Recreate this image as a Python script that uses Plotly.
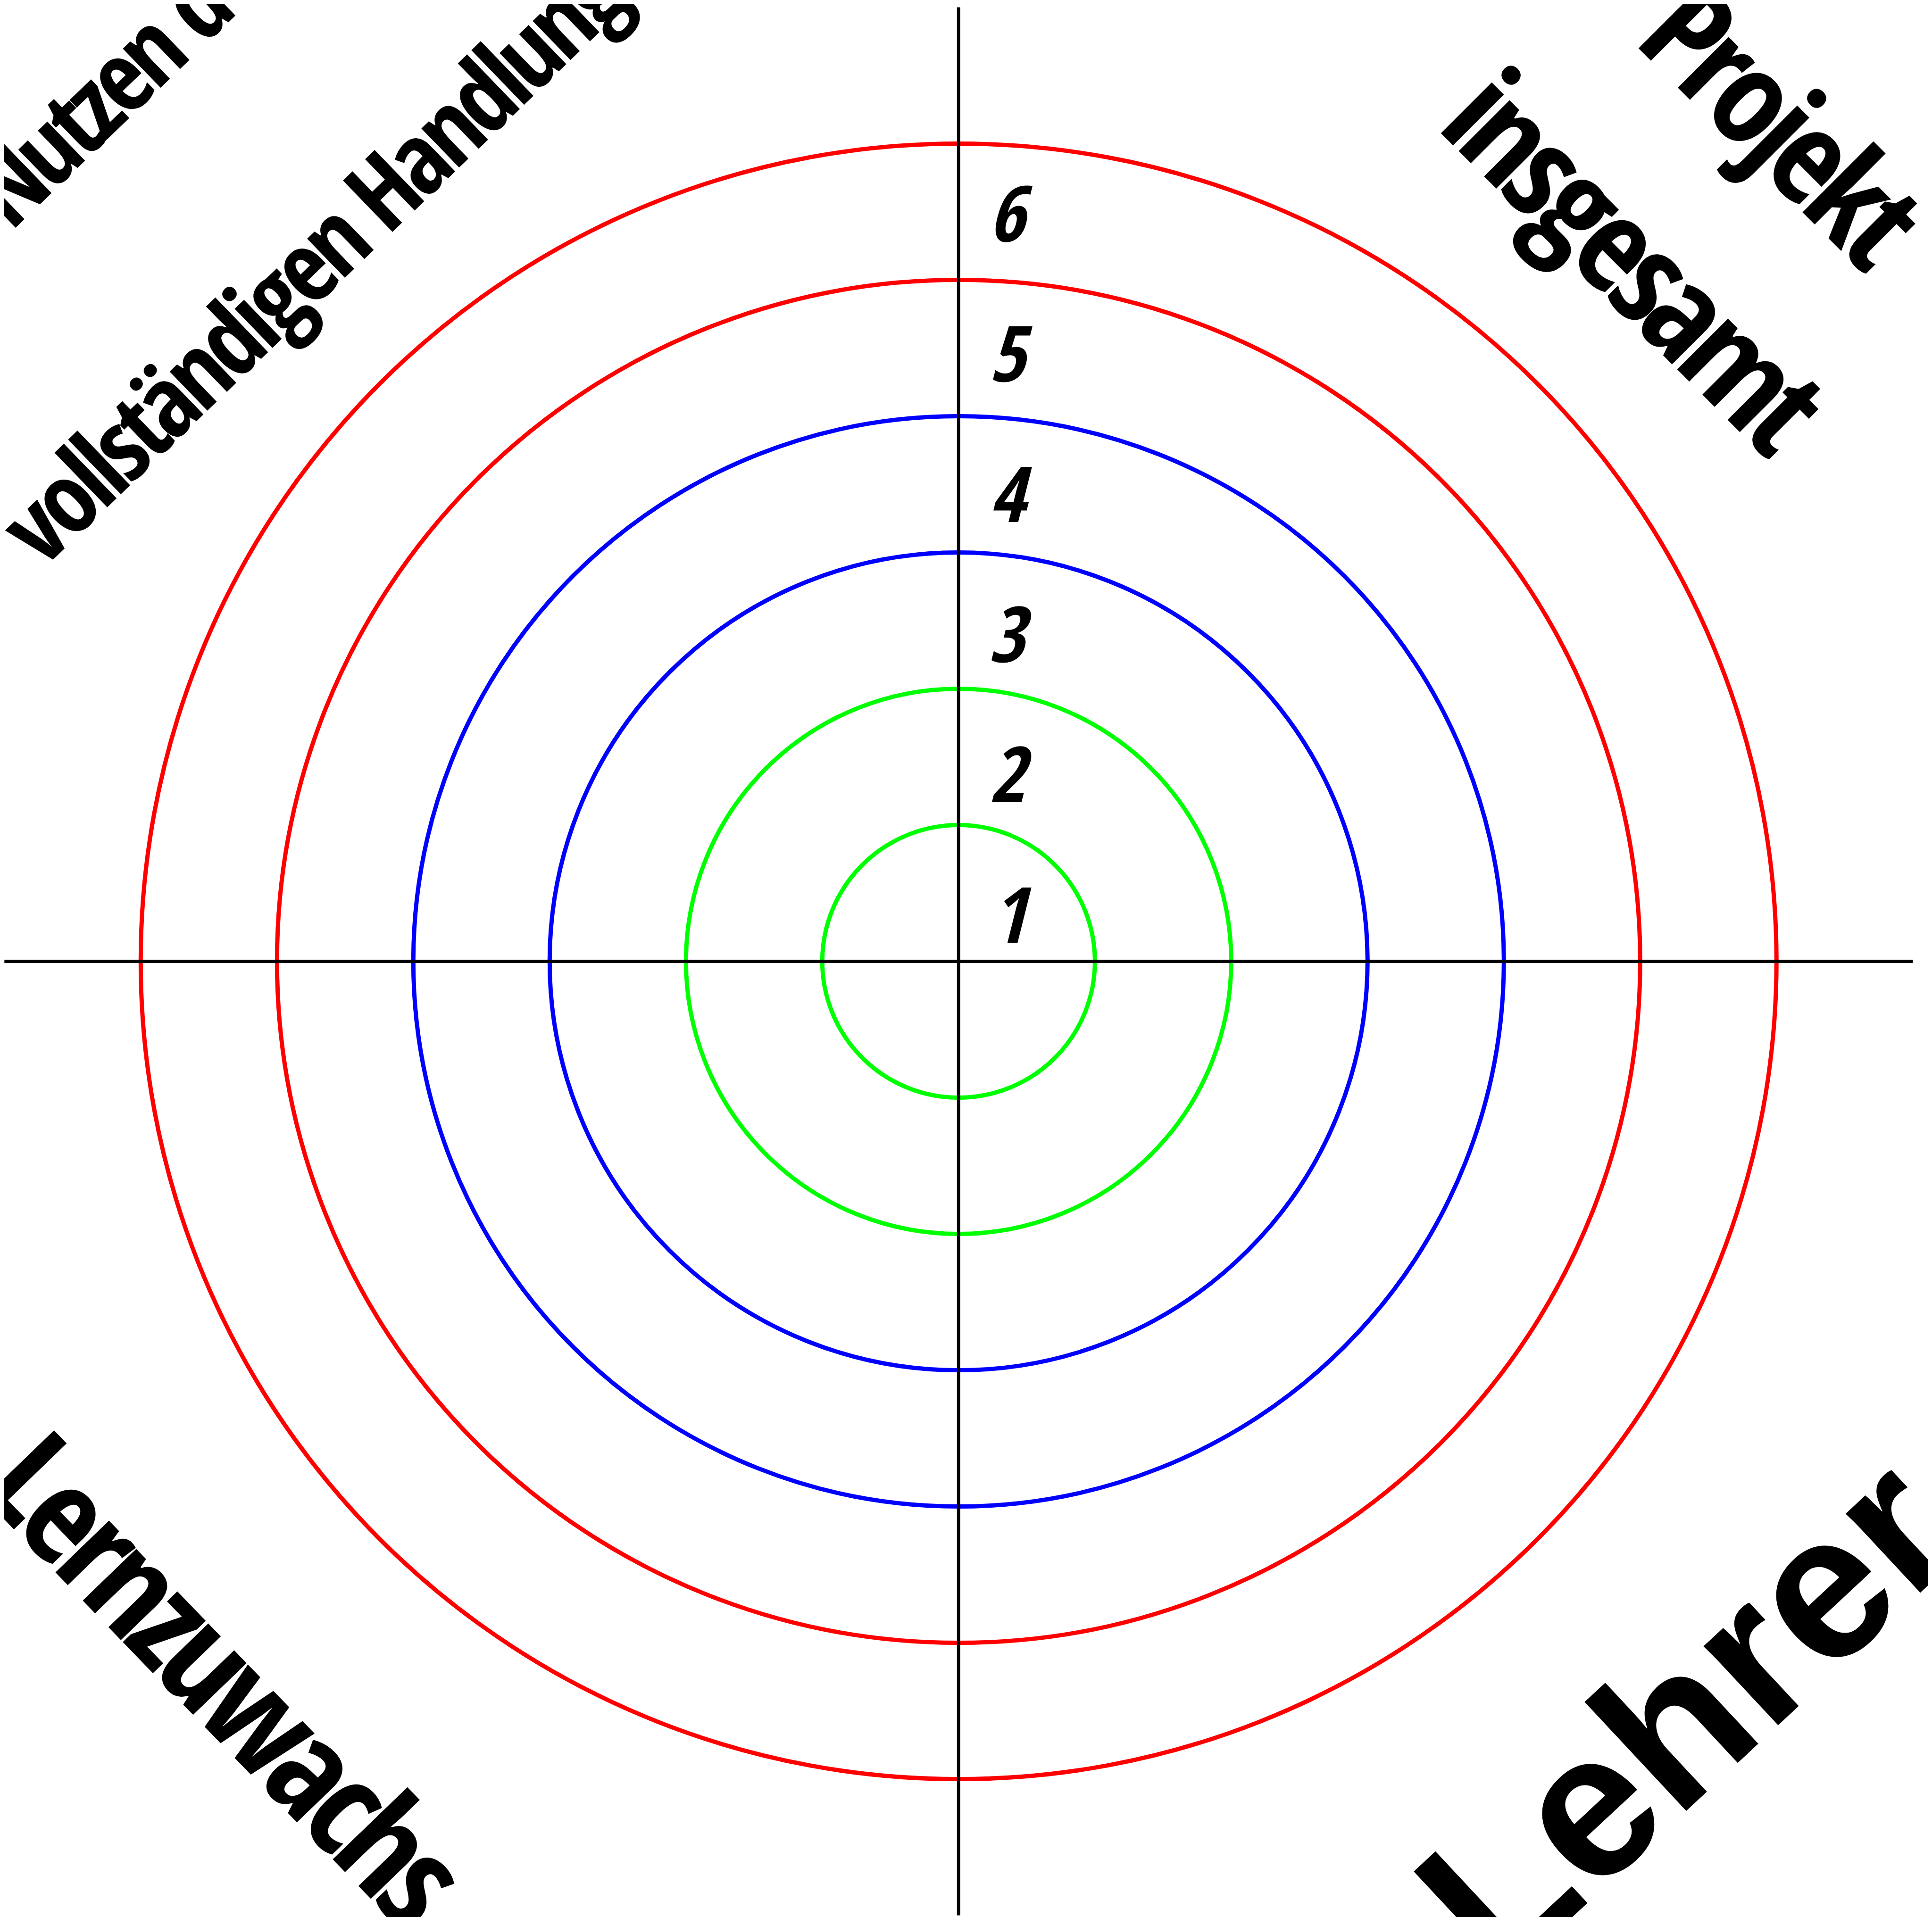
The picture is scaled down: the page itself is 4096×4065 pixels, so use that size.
import plotly.graph_objects as go

# ---- data ----
ring_values = [1, 2, 3, 4, 5, 6]
ring_colors = ["#00ff00", "#00ff00", "#0000ff", "#0000ff", "#ff0000", "#ff0000"]
ring_labels = ["1", "2", "3", "4", "5", "6"]
quadrant_texts = ["Nutzen der", "vollständigen Handlung", "Projekt", "insgesamt", "Lernzuwachs", "Lehrer"]
axis_extent = 7

W, H = 4096, 4065
fig = go.Figure()

# concentric rings
for r, c in zip(ring_values, ring_colors):
    fig.add_shape(type="circle", xref="x", yref="y", x0=-r, x1=r, y0=-r, y1=r,
                  line=dict(color=c, width=9), fillcolor="rgba(0,0,0,0)", layer="below")

# cross axes
fig.add_shape(type="line", xref="x", yref="y", x0=-axis_extent, x1=axis_extent, y0=0, y1=0,
              line=dict(color="black", width=7))
fig.add_shape(type="line", xref="x", yref="y", x0=0, x1=0, y0=-axis_extent, y1=axis_extent,
              line=dict(color="black", width=7))

# ring number labels
COND = "Open Sans Condensed, Open Sans, sans-serif"
for v, lab in zip(ring_values, ring_labels):
    fig.add_annotation(x=0.383, y=1.029 * v - 0.671, xref="x", yref="y",
                       text='<span style="font-stretch:condensed">%s</span>' % lab,
                       showarrow=False, xanchor="center", yanchor="middle",
                       font=dict(family=COND, size=164, weight="bold", style="italic", color="black"))

# quadrant captions (paper coords, centre of text box)
cap_layout = [
    # x, y, angle, size, family, condensed
    (0.06165, 0.96551, -44, 212, COND, True),
    (0.15864, 0.86775, -44, 212, COND, True),
    (0.9222, 0.9380, 45, 280, COND, True),
    (0.8460, 0.8672, 45, 280, COND, True),
    (0.1169, 0.1276, 46, 290, COND, True),
    (0.8704, 0.1079, -43, 436, "Liberation Sans, Arial, sans-serif", False),
]
for txt, (px, py, ang, sz, fam, cond) in zip(quadrant_texts, cap_layout):
    if cond:
        t = '<span style="font-stretch:condensed;letter-spacing:-0.05em">%s</span>' % txt
    else:
        t = txt
    fig.add_annotation(x=px, y=py, xref="paper", yref="paper", text=t, textangle=ang,
                       showarrow=False, xanchor="center", yanchor="middle",
                       font=dict(family=fam, size=sz, weight="bold", color="black"))

unit = 289.0
cx, cy = 2024.3, 2030.6
fig.update_layout(
    width=W, height=H, margin=dict(l=0, r=0, t=0, b=0),
    paper_bgcolor="white", plot_bgcolor="white", showlegend=False,
    xaxis=dict(range=[-cx / unit, (W - cx) / unit], visible=False, showgrid=False, zeroline=False),
    yaxis=dict(range=[-(H - cy) / unit, cy / unit], visible=False, showgrid=False, zeroline=False),
)
fig.write_html("out.html")
